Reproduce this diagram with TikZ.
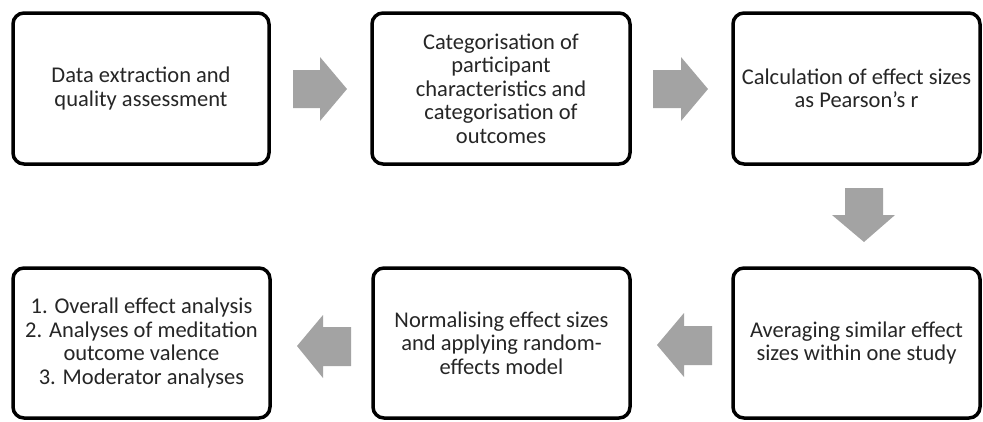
\documentclass[tikz,border=0pt]{standalone}
\usepackage{fontspec}
\setmainfont{Carlito}
\begin{document}
\begin{tikzpicture}[x=1pt,y=-1pt,
  stepbox/.style={draw=black, line width=3.5pt, rounded corners=11pt, fill=white,
    align=center, text=black!85, inner sep=0pt,
    font=\fontsize{22.5}{23.4}\selectfont},
  arrowfill/.style={fill=black!36}]
\useasboundingbox (0,0) rectangle (983,421);
% boxes
\node[stepbox, minimum width=256pt, minimum height=151pt] (b1) at (141,88.5)
  {Data extraction and\\quality assessment};
\node[stepbox, minimum width=258pt, minimum height=151pt] (b2) at (501,88.5)
  {Categorisation of\\participant\\characteristics and\\categorisation of\\outcomes};
\node[stepbox, minimum width=247pt, minimum height=151pt] (b3) at (856.5,88.5)
  {Calculation of effect sizes\\as Pearson{\char"27}s r};
\node[stepbox, minimum width=257pt, minimum height=150pt] (b4) at (141.5,343)
  {1. Overall effect analysis\\2. Analyses of meditation\\outcome valence\\3. Moderator analyses};
\node[stepbox, minimum width=257pt, minimum height=150pt] (b5) at (501.5,343)
  {Normalising effect sizes\\and applying random-\\effects model};
\node[stepbox, minimum width=247pt, minimum height=150pt] (b6) at (856.5,343)
  {Averaging similar effect\\sizes within one study};
% block arrows
\fill[arrowfill] (293,70) -- (320,70) -- (320,57) -- (347,89) -- (320,121) -- (320,108) -- (293,108) -- cycle;
\fill[arrowfill] (653,70) -- (681,70) -- (681,57) -- (708,89) -- (681,121) -- (681,108) -- (653,108) -- cycle;
\fill[arrowfill] (845,188) -- (883,188) -- (883,215) -- (895,215) -- (864,242) -- (832,215) -- (845,215) -- cycle;
\fill[arrowfill] (712,326) -- (684,326) -- (684,313) -- (657,345) -- (684,377) -- (684,365) -- (712,365) -- cycle;
\fill[arrowfill] (351,327) -- (323,327) -- (323,315) -- (297,346) -- (323,378) -- (323,366) -- (351,366) -- cycle;
\end{tikzpicture}
\end{document}
